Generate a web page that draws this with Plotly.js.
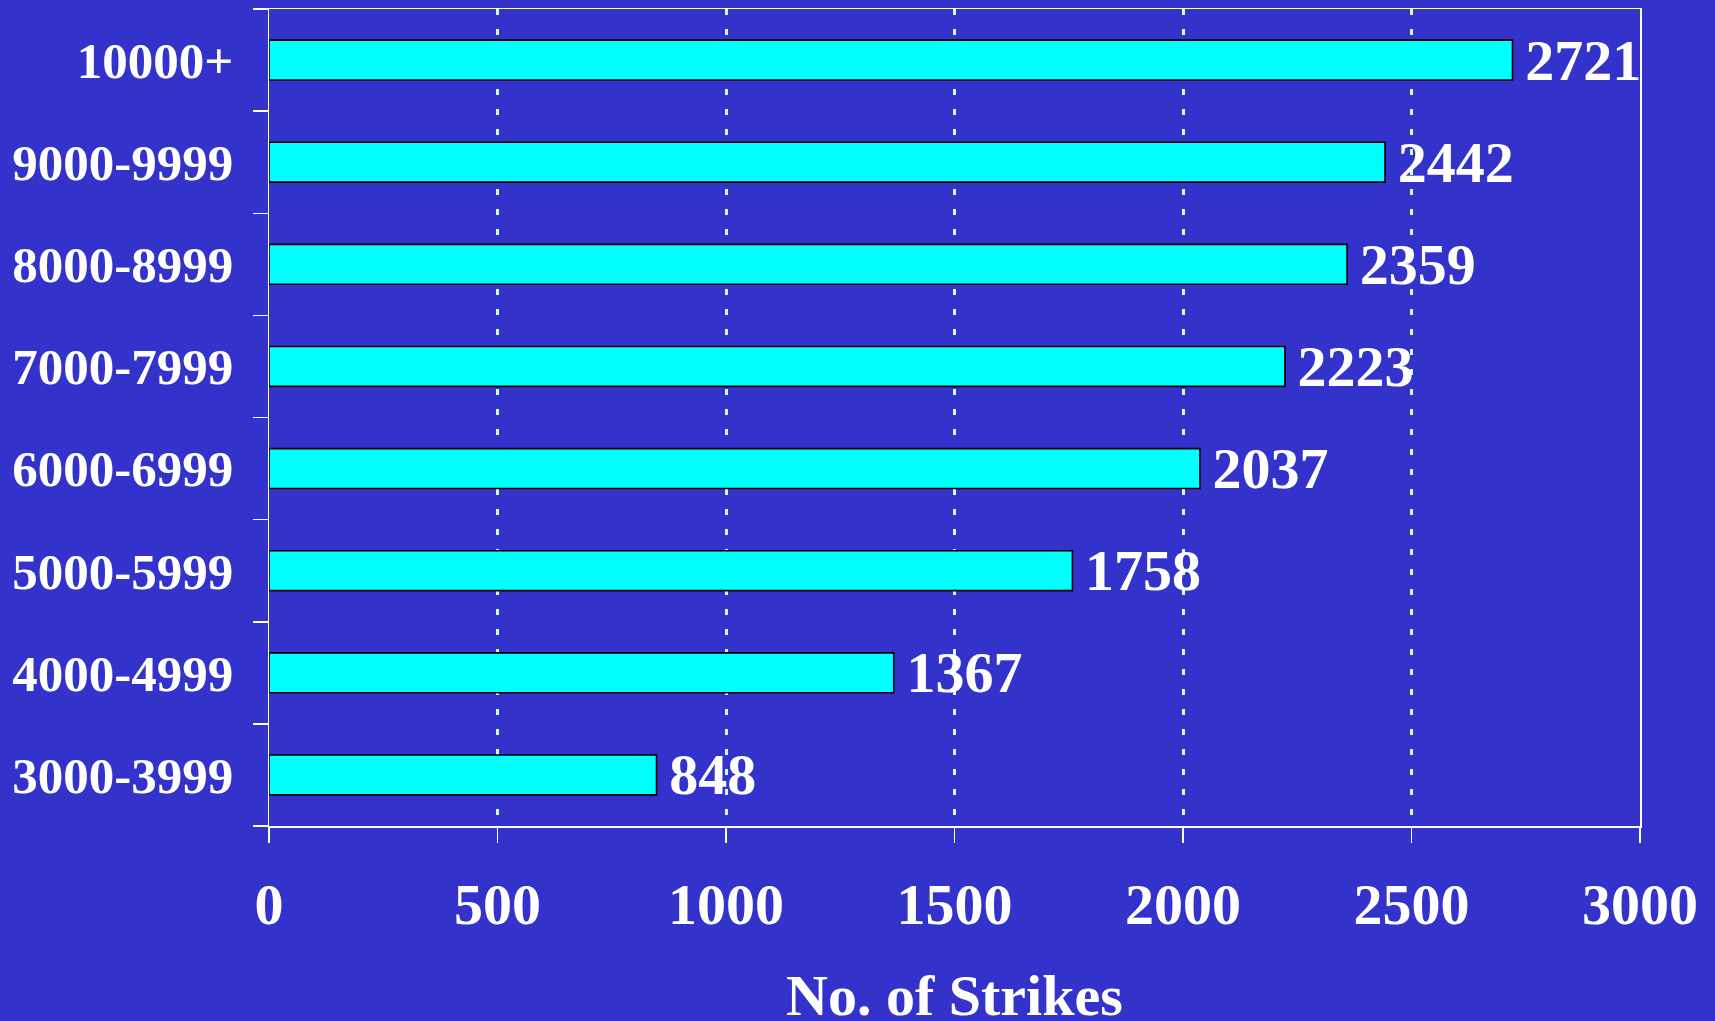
<!DOCTYPE html>
<html>
<head>
<meta charset="utf-8">
<script src="https://cdn.plot.ly/plotly-3.0.1.min.js"></script>
<style>
  html, body { margin: 0; padding: 0; background: #3333CC; }
  #chart { width: 1715px; height: 1021px; }
</style>
</head>
<body>
<div id="chart"></div>
<script>
// Strike counts per size band, listed bottom to top
const bands = ["3000-3999", "4000-4999", "5000-5999", "6000-6999",
               "7000-7999", "8000-8999", "9000-9999", "10000+"];
const strikes = [848, 1367, 1758, 2037, 2223, 2359, 2442, 2721];
const xTicks = [0, 500, 1000, 1500, 2000, 2500, 3000];
const xTitle = "No. of Strikes";

const serif = "'Liberation Serif', 'Times New Roman', Times, serif";
const bg = "#3333CC";

const trace = {
  type: "bar",
  orientation: "h",
  x: strikes,
  y: bands,
  marker: { color: "#00FFFF", line: { color: "#000000", width: 1.6 } },
  // a narrow space keeps the value a little clear of the bar end
  text: strikes.map(v => "\u2006" + v),
  textposition: "outside",
  textfont: { family: serif, size: 58, color: "#FFFFFF", weight: 700 },
  constraintext: "none",
  cliponaxis: false,
  hoverinfo: "skip"
};

const layout = {
  width: 1715,
  height: 1021,
  paper_bgcolor: bg,
  plot_bgcolor: bg,
  margin: { l: 269, r: 75, t: 9, b: 195 },
  bargap: 0.61,
  showlegend: false,
  font: { family: serif, color: "#FFFFFF", weight: 700 },
  xaxis: {
    range: [0, 3000],
    tickvals: xTicks,
    ticktext: xTicks.map(String),
    ticks: "outside",
    ticklen: 15,
    tickwidth: 1.5,
    tickcolor: "#FFFFFF",
    ticklabelstandoff: 12,
    tickfont: { family: serif, size: 58, color: "#FFFFFF", weight: 700 },
    showline: true,
    linecolor: "#FFFFFF",
    linewidth: 1.5,
    mirror: true,
    showgrid: true,
    gridcolor: "#CCFFFF",
    gridwidth: 3,
    griddash: "6px,14px",
    zeroline: false,
    automargin: false
  },
  yaxis: {
    type: "category",
    categoryorder: "array",
    categoryarray: bands,
    range: [-0.5, bands.length - 0.5],
    tickson: "boundaries",
    ticks: "outside",
    ticklen: 15,
    tickwidth: 1.5,
    tickcolor: "#FFFFFF",
    ticklabelstandoff: 24,
    tickfont: { family: serif, size: 51, color: "#FFFFFF", weight: 700 },
    showline: true,
    linecolor: "#FFFFFF",
    linewidth: 1.5,
    mirror: true,
    showgrid: false,
    zeroline: false,
    automargin: false
  },
  // the x-axis title sits low, running into the bottom edge of the page
  annotations: [{
    text: xTitle,
    xref: "paper", yref: "paper",
    x: 0.5, y: -0.25,
    xanchor: "center", yanchor: "bottom",
    showarrow: false,
    font: { family: serif, size: 58, color: "#FFFFFF", weight: 700 }
  }]
};

Plotly.newPlot("chart", [trace], layout, { displayModeBar: false, staticPlot: true });
</script>
</body>
</html>
